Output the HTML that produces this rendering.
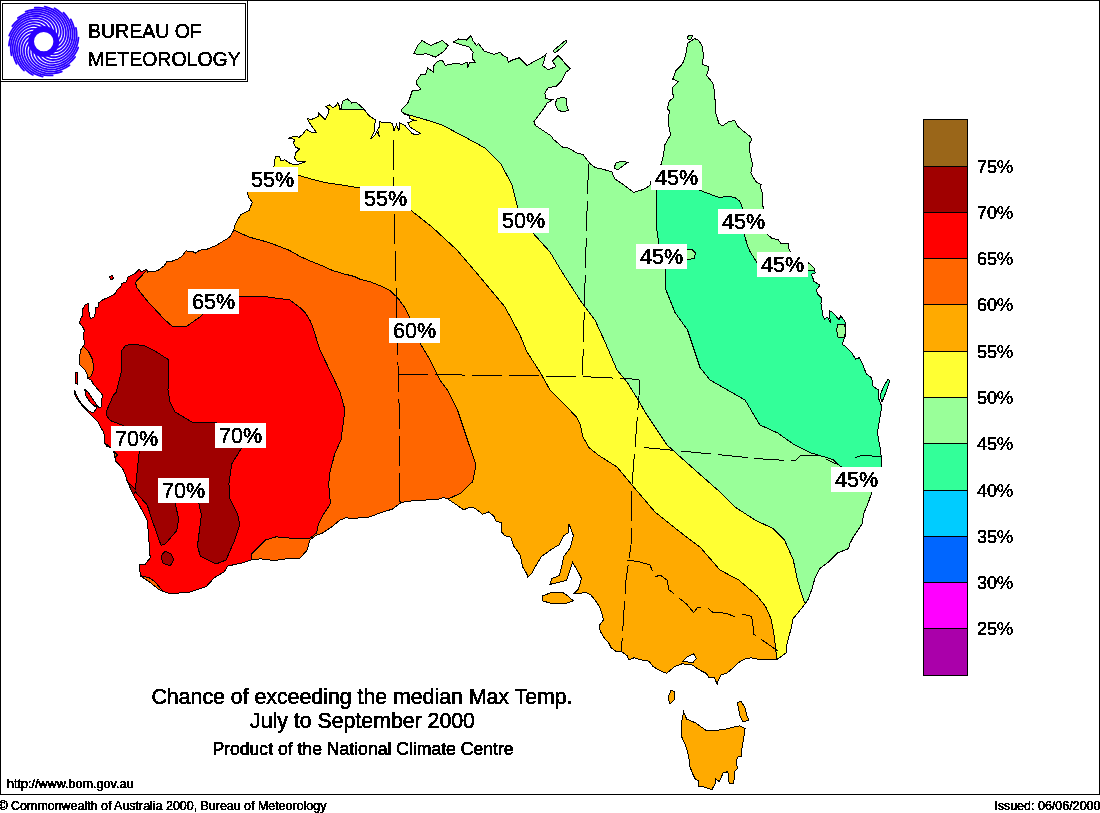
<!DOCTYPE html>
<html><head><meta charset="utf-8"><style>
html,body{margin:0;padding:0;background:#fff;}
body{width:1100px;height:813px;overflow:hidden;position:relative;}
svg{position:absolute;left:0;top:0;will-change:transform;}
text{font-family:"Liberation Sans",sans-serif;fill:#000;}
.lg{font-size:18px;stroke:#000;stroke-width:0.2px;}
.ml{font-size:21.5px;stroke:#000;stroke-width:0.2px;}
.logo{font-size:19.5px;stroke:#000;stroke-width:0.15px;}
.t1{font-size:21.3px;stroke:#000;stroke-width:0.3px;}
.t3{font-size:17.6px;stroke:#000;stroke-width:0.3px;}
.sm{font-size:12.6px;stroke:#000;stroke-width:0.25px;}
.iss{font-size:12.5px;stroke:#000;stroke-width:0.25px;}
</style></head><body>
<svg width="1100" height="813" viewBox="0 0 1100 813">
<defs><filter id="crisp" x="-5%" y="-20%" width="110%" height="140%"><feComponentTransfer><feFuncA type="discrete" tableValues="0 1 1"/></feComponentTransfer></filter><clipPath id="land"><path d="M247.3,191 L262,178 L273.9,166.8 L275.4,156.9 L279.8,156.9 L280.8,160.9 L284.8,159.9 L290.7,163.8 L296.6,164.8 L306.4,161.4 L297.6,161.8 L294.6,157.9 L295.6,153 L299.5,149 L295.6,147.1 L293.6,143.1 L294.6,139.2 L288.7,138.2 L293.6,136.3 L299.5,137.2 L303.5,133.3 L306.4,129.4 L311.3,132.3 L316.3,132.3 L313.3,128.4 L309.4,122.5 L307.4,118.5 L311.3,119.5 L318.2,116.6 L318.2,112.6 L321.2,115.6 L325.1,119.5 L328.1,113.6 L329.1,109.7 L326.1,106.7 L329.1,104.8 L333,107.7 L335.9,105.7 L337.9,102.8 L340.9,109.7 L341.6,104.7 L343.3,100.6 L347.4,99 L350.6,101.5 L351.5,103.1 L356.4,102.3 L363.7,108.8 L368.6,115.4 L376,120.3 L374.4,124.4 L374.4,130.9 L370.3,139.1 L374.4,135.8 L376.8,131.7 L379.3,136.6 L377.6,129.3 L380.1,126 L379.3,121.9 L390.7,122.7 L392.4,123.6 L394,130.9 L396.5,124.4 L398.9,130.9 L399.7,122.7 L404.6,125.2 L412,133.4 L416.1,135 L420.2,133.4 L409.6,126.8 L407.9,122.7 L412,121.1 L415.3,120.3 L409.6,118.6 L409.6,116.2 L403.8,113.7 L401.4,111.3 L402.2,108.8 L403.3,107.5 L407.8,103.1 L410,97.6 L412.2,90.9 L421,89.8 L419.9,87.6 L416.6,84.3 L416.6,80.9 L421,74.3 L425.5,74.3 L427.7,67.7 L433.2,72.1 L433.2,66.5 L436.5,62.1 L442.1,59.9 L445.4,65.4 L455.4,63.2 L462,64.3 L467.6,62.1 L467.6,67.7 L469.8,62.1 L475.3,62.1 L472.5,58.8 L473.1,52.1 L468.7,46.6 L459.8,44.4 L453.2,42.2 L458.7,38.9 L466.4,40 L470.9,35.5 L473.1,41.1 L476.4,45.5 L478.6,43.8 L484.2,51 L494.1,54.4 L500.5,52.2 L502.8,55.5 L507.2,57.7 L508.3,62.1 L512.7,59.9 L519.4,57.7 L522.7,61 L527.1,65.5 L534.9,61 L541.5,57.7 L545.9,54.4 L542.6,65.5 L548.2,69.9 L555.9,66.6 L552.6,61 L558.1,55.5 L561.4,58.8 L564.8,63.3 L570.3,68.8 L565.9,72.1 L563.7,76.5 L561.4,81 L555.9,86.5 L548.2,87.6 L544.8,93.2 L545.9,98.7 L552.6,99.8 L547,103.1 L543.7,108.7 L537.1,117.5 L533.8,121.9 L535.5,125.5 L543.6,130.9 L551.8,136.4 L553.2,139.1 L562.7,147.3 L568.2,148 L576.4,152.7 L583.2,154.8 L590,163.6 L595.5,167.7 L602.3,169.1 L611.8,171.8 L614.5,178.6 L622.7,184.1 L633.6,192.3 L643.2,189.5 L650,185.5 L650.7,181.4 L656,172 L660.9,165 L663,156.8 L665,144.5 L670.5,135 L669,126.8 L668.5,116.1 L669.8,111.2 L667.3,108.7 L669.1,101.3 L673.4,97.6 L672.2,87.8 L678.4,81.6 L672.8,79.2 L675.9,70.6 L680.8,65.7 L683.3,62 L685.7,54.6 L687.6,43.5 L694.3,38.6 L698,39.8 L701.7,44.8 L703.6,54.6 L702.3,64.4 L709.1,66.9 L706.6,75.5 L712.8,82.9 L714,89 L715.2,101.3 L715.2,111.2 L718.9,123.4 L722.6,125.9 L728.8,121.6 L734.9,120.4 L737.4,125.9 L743.4,131.1 L750.8,137.2 L752,139.7 L749.5,143.4 L750.1,154.5 L752.6,164.3 L750.8,172.9 L755.7,181.5 L761.2,184.6 L760,186.4 L762.5,193.8 L763.1,208.6 L764,222 L765,233 L767.2,234.2 L772.1,238.5 L778.3,239.7 L780.8,243.4 L788.1,243.4 L789.4,250.8 L798,257 L808.1,262.5 L814,268 L815.2,272.9 L811.5,274.1 L814,281.5 L820.1,285.2 L816.2,290 L817.6,294.1 L821.7,298.1 L821,303.5 L823,315.7 L824.4,319.1 L827.7,317.1 L830.4,323.2 L829.1,310.3 L832.5,312.3 L839.2,319.8 L840.6,315.7 L844.7,321.1 L846,326.5 L844.7,336 L843.3,341.4 L842,344.1 L846,346.8 L851.4,352.2 L855.5,359 L859.5,357.7 L862.2,363.1 L866.3,373.9 L871.7,378 L873.1,386.1 L878.5,390.1 L878.5,398.3 L881.8,406.3 L879.6,419.6 L877.4,433 L880.7,450.6 L881.8,466 L878,480 L871.9,492 L868.5,502 L864,513 L862,524 L853,537.5 L849.7,544 L848.6,548.6 L837.5,553 L828.7,562 L819.8,568.5 L815,578 L811.8,589.5 L807.7,600.3 L803.6,605.7 L798.2,612.5 L792.8,619.2 L791.5,627.3 L788.8,636.8 L786.7,644.9 L786,653 L782,655.8 L776.6,659.8 L757.6,659.1 L750.9,657.8 L744.1,659.1 L738.7,662.5 L733.3,667.9 L726.5,673.3 L721.1,674.7 L718.4,680.1 L717.1,684.2 L714.4,677.4 L708.9,677.4 L706.2,673.3 L700.8,670.6 L696.3,667.9 L692.3,665 L686,664.5 L682.8,663.5 L674.7,666.6 L666.6,673.3 L659.8,670.6 L653.1,666.6 L649,661.2 L640.9,659.8 L634.1,657.8 L628.7,659.8 L627.3,655.8 L621.9,651.7 L616.5,651.7 L611.1,647.6 L608.4,642.2 L604.4,638.2 L600.3,631.4 L598.9,626 L603,620.6 L603,617.9 L600.3,608.4 L596.2,601.6 L590.8,594.9 L585.4,592.2 L580,593.5 L574.1,593.3 L578.5,588.9 L581.5,578.5 L578.5,572.6 L572.6,562.3 L566.7,580 L562.3,581.5 L549.8,584.4 L552,578.5 L559.4,575.6 L561.6,566.7 L563.8,556.4 L570.4,547.5 L573.4,535.7 L571.9,531.3 L569,524 L568.2,532.8 L563.8,535.7 L559.4,544.6 L552,549 L541.6,556.4 L534.3,568.2 L532,573.4 L527.6,577 L526.9,574 L522.5,566.7 L520.2,555 L513.6,546 L510.7,537.2 L504.8,535.7 L501,531.3 L501,522.5 L495.9,521 L495.6,520.7 L494.2,516.4 L488.4,512 L482.5,514.2 L475.3,508.4 L470.9,506.9 L463.6,509.8 L456.4,504.7 L447.6,498.9 L443.3,497.5 L437.5,499.6 L415.6,500.4 L401.1,502.5 L392.4,509.1 L380.7,512.7 L369.1,517.1 L351.6,518.5 L345.8,517.8 L340,520 L333,526 L322.6,533 L315.8,535.6 L309.7,540 L307.1,550.2 L299.4,558.8 L291.7,558 L274.4,560.5 L260.7,558.8 L252,559.7 L241.7,563 L227.9,566 L224,571.9 L214.2,577.8 L206.3,586.6 L188.6,592.5 L168.9,593.5 L159,589.6 L149.2,581.7 L140.3,575.8 L139.4,564 L145.3,564 L150.2,558 L149.2,544.3 L148.2,530.5 L147.2,520.7 L141.3,508.9 L133.5,495 L127.6,482.3 L125.3,475 L123.3,469.8 L118.4,463.9 L115.4,460.9 L114.4,454.1 L111.5,448.1 L106.6,446.2 L104.6,443.2 L104.6,436.3 L103.6,432.4 L97.7,421.6 L94,418 L90,414 L85,409 L80,403 L76,397 L74,392 L74.8,390.4 L76.8,396 L80,401.6 L84,406.4 L88,410.4 L92,412.8 L93.6,412.8 L96,408.8 L96.8,404.8 L97.6,406.4 L100,408 L101.6,406.4 L101.6,401.6 L102.4,395.2 L100.8,392.8 L96,387.2 L92.8,383.2 L91.2,380 L88,378.4 L87.2,374.4 L84.8,369.6 L80,364.8 L79.6,360 L80.2,350.8 L84.2,344.4 L84,340 L83.7,333.1 L84.4,330.2 L83.3,328 L79.6,322.8 L80.3,319.1 L82.2,316.2 L82.2,310.3 L83.3,308 L85.5,304.4 L88.5,303.6 L89.2,315.4 L90.7,318.4 L94.4,316.9 L95.8,310.3 L95.1,308 L98,307.3 L98.8,302.9 L102.5,299.9 L109.1,297 L115.8,293.3 L116.5,290.3 L120.9,286.6 L121.7,283.7 L126.8,281.5 L127.3,277.5 L134.1,274.1 L139.5,269.3 L140.9,272 L146.4,269.3 L147.7,272 L154.5,271.4 L158.6,270 L164.1,265.9 L166.8,261.8 L172.3,261.1 L177.7,259.1 L181.8,256.4 L185.9,250.9 L192.7,251.6 L195.5,253 L199.5,250.2 L206.4,249.5 L215.9,245.5 L222.7,241.4 L229.5,237.3 L233.6,230.5 L235,225 L237.4,220.1 L241.3,214.2 L249.2,210.3 L252.2,202.4 L248.2,196.5ZM683.6,711.7 L682,720 L681,724 L681.4,736 L686.6,748 L688.8,756.8 L690,767 L692.7,773.8 L695.4,779.2 L698.1,780.6 L698.8,786.7 L703.5,786.7 L709,788.7 L711.7,790 L715,784 L715.7,779.2 L719.1,781.3 L721.1,777.9 L723.2,772.5 L727.9,771.8 L728.6,777.9 L729.2,783.3 L733.3,783.3 L734.7,776.5 L734,771.8 L737.4,768.4 L736,760.3 L738.7,756.2 L741.4,756.2 L742.1,746.8 L743.5,740 L744,736 L745,728.7 L739.7,725.8 L733.8,727 L728,728.7 L719,730 L707,731 L695.4,722.8 L686.6,719ZM413.8,53.8 L417.7,45.5 L422.1,40.5 L426.6,43.3 L431,45.5 L442.1,40.5 L448.2,45.5 L444.3,51 L435.4,57.1 L426.6,53.8 L419.9,54.4ZM553,51 L560,45 L566,40 L567,42 L561,48 L555,53ZM555,104 L557,99 L563,97 L567,99 L566,104 L568.6,110 L563,112 L558,110ZM614,168 L616,163 L622,161 L628,162.5 L624,165 L618,169.8ZM687,37 L690,35 L692.5,36 L691,39 L688,39ZM542.4,596 L550,593 L562,592 L568,596 L573.4,601 L565,603.6 L550,603 L543,601ZM668,698 L671,690 L674.8,692 L674,700 L670,704ZM737.5,703 L741,701 L745,708 L747,716 L749,720 L743,722 L740,716ZM880,395 L884,386 L888,379 L889.6,381 L886,392 L882,402ZM84.8,389.6 L88,392 L92,398 L96.8,404.8 L95,406.4 L90,402 L86,396ZM76,372 L78,373 L77.5,384 L75.6,383ZM109.5,277 L112,275.5 L113.6,278 L111,280.2ZM836.5,330 L838,324 L844,324 L846,330 L845,337 L838,337Z"/></clipPath></defs>
<rect x="0.5" y="0.5" width="1099" height="794" fill="#fff" stroke="#000" stroke-width="1" shape-rendering="crispEdges"/>
<g clip-path="url(#land)" shape-rendering="crispEdges">
<rect x="0" y="0" width="1100" height="813" fill="#ffaa00"/>
<path d="M238,168 L297,174.8 L310.3,178.8 L326,182.7 L340,184.7 L360,188 L385,197 L410.5,210 L432,227 L457,250 L480,277 L505,307 L520,335 L527,352 L540,372 L550,390 L565,405 L576.5,417 L580.5,425 L582.5,436 L589,447.6 L598.9,455.5 L617,467 L632,485 L655,512 L680,532 L700,547 L720,570 L738.7,580 L757.6,596.2 L765.8,607 L771.2,619.2 L773.9,634.1 L775.9,650.3 L776.6,659.8 L778,670 L900,680 L900,20 L238,20Z" fill="#ffff33"/>
<path d="M396,108 L404.6,113.7 L413.6,116.2 L421.8,118.6 L430,121.1 L442,125 L463,136 L485,148 L501,164 L512,185 L517,205 L522,220 L532,232 L550,252 L562,272 L580,300 L595,320 L605,342 L617,370 L627,382 L640,403 L645,412 L667,445 L695,470 L720,492 L735,507 L755,520 L773.3,528.7 L784.4,539.8 L793.2,559.7 L797.5,580 L801,592.2 L804.3,601.6 L810,615 L900,620 L900,20 L396,20Z" fill="#99ff99"/>
<path d="M659,160 L659,189 L699,190 L715,196 L720,197.5 L727.4,196.3 L734.8,197.5 L739.7,201.2 L742.8,208.6 L744,233 L747.5,246 L750,251.4 L756.8,262.5 L785,268 L830,272 L900,290 L900,485 L880,484 L860,476 L839.8,466 L833,459.5 L811,452.9 L793.2,444 L777.7,433 L760,425 L745,400 L727.5,390 L710,380 L700,367.5 L692.5,345 L687.5,330 L675,312.5 L666,290 L665,268 L660,255 L659,244 L656,225 L656,200 L656,189Z" fill="#33ff99" stroke="#000" stroke-width="1"/>
<path d="M225,226 L235,230.5 L243.2,234.5 L250,237.3 L268.9,242.5 L288.6,250 L300,256.4 L310.9,261.3 L321.8,265.6 L332.7,270.5 L343.6,273.8 L354.5,276.5 L360,279.3 L370.9,282 L381.8,286.4 L389.5,290.2 L396,296.2 L399.3,300 L404.7,307.6 L409.1,316.4 L414,330 L420,343 L430,360 L440,380 L447.5,390 L457.5,410 L467.5,440 L476,465 L472.5,482.5 L470.9,482.9 L460.7,493.1 L448.4,498.9 L452,510 L470,570 L60,610 L60,200 L225,200Z" fill="#ff6600"/>
<path d="M140,262 L147,266 L147,270 L135.5,282.3 L136.8,287.7 L146.4,300 L165,320 L172,326 L187,326 L200,317 L212,305 L239,296 L260,296 L290,300 L300,307.6 L305.5,313 L309.8,320 L312,325 L320,350 L332,375 L340,392 L345,410 L341,440 L334.7,453.8 L329.5,474.4 L328.7,484.8 L330.4,503.7 L322.6,515.8 L318.3,524.4 L316.6,533 L308.9,539 L290,538.1 L276.2,536.8 L265.8,539.9 L252,553.6 L251.2,558.8 L248,575 L240,630 L60,630 L60,240Z" fill="#ff0000"/>
<path d="M122,350 L125.8,345.2 L135.4,344.4 L145,346 L155,351 L169,360 L168,390 L170,402 L175,412 L192,422 L215,422 L236,432 L241.7,447.9 L231.9,463.6 L228.9,483.3 L229.9,499 L237.8,514.8 L239.7,524.6 L233.8,542.3 L226,560 L216.1,564 L200.4,556 L197.4,546.3 L201.4,514.8 L198.4,501.6 L187,492 L174.8,502 L178.7,518.7 L176.8,530.5 L165,544.3 L161,545.3 L153,522.7 L147.2,505 L135.4,492 L131,498 L124,486 L127.6,482.3 L135.4,489 L139.4,449.8 L125,438 L123.3,425.5 L110.5,420.6 L106.6,415.7 L106.6,410.7 L113.5,395 L116.2,392.4 L121.8,370Z" fill="#a00000" stroke="#000" stroke-width="1"/>
<path d="M161,556 L165,551.2 L171,554 L173.8,560 L170,566 L163,563Z" fill="#a00000" stroke="#000" stroke-width="1"/>
<path d="M82.6,345.2 L89,352.4 L92.8,360 L93.6,369.6 L91.2,376 L88,378.4 L80,370 L75,360 L80.2,350.8Z" fill="#ff6600" stroke="#000" stroke-width="1"/><path d="M100,440 L108.5,445.7 L112.5,450 L117.4,455 L113,460 L100,460Z" fill="#ff6600" stroke="#000" stroke-width="1"/><path d="M130,570 L141.3,575.8 L149.2,577.8 L155,581.7 L163,591.5 L150,600 L130,600Z" fill="#ff6600" stroke="#000" stroke-width="1"/>
<path d="M836.5,330 L838,324 L844,324 L846,330 L845,337 L838,337Z" fill="#99ff99" stroke="#000" stroke-width="1"/><path d="M686,250 L692,249.5 L695.5,253 L694,258.5 L686,260Z" fill="#99ff99" stroke="#000" stroke-width="1"/><path d="M336,95 L341.6,104.7 L343.3,100.6 L347.4,99 L350.6,101.5 L356.4,102.3 L363.7,108.8 L363.7,109.6 L340,109.6Z" fill="#99ff99" stroke="#000" stroke-width="1"/>
<path d="M682.8,661.2 L686.9,657.1 L693.6,653.7 L696.3,658.5 L693,662.5 L688,662Z" fill="#fff" stroke="#000" stroke-width="1"/>
<g fill="none" stroke="#000" stroke-width="1">
<path d="M238,168 L297,174.8 L310.3,178.8 L326,182.7 L340,184.7 L360,188 L385,197 L410.5,210 L432,227 L457,250 L480,277 L505,307 L520,335 L527,352 L540,372 L550,390 L565,405 L576.5,417 L580.5,425 L582.5,436 L589,447.6 L598.9,455.5 L617,467 L632,485 L655,512 L680,532 L700,547 L720,570 L738.7,580 L757.6,596.2 L765.8,607 L771.2,619.2 L773.9,634.1 L775.9,650.3 L776.6,659.8 L778,670"/><path d="M396,108 L404.6,113.7 L413.6,116.2 L421.8,118.6 L430,121.1 L442,125 L463,136 L485,148 L501,164 L512,185 L517,205 L522,220 L532,232 L550,252 L562,272 L580,300 L595,320 L605,342 L617,370 L627,382 L640,403 L645,412 L667,445 L695,470 L720,492 L735,507 L755,520 L773.3,528.7 L784.4,539.8 L793.2,559.7 L797.5,580 L801,592.2 L804.3,601.6 L810,615"/><path d="M225,226 L235,230.5 L243.2,234.5 L250,237.3 L268.9,242.5 L288.6,250 L300,256.4 L310.9,261.3 L321.8,265.6 L332.7,270.5 L343.6,273.8 L354.5,276.5 L360,279.3 L370.9,282 L381.8,286.4 L389.5,290.2 L396,296.2 L399.3,300 L404.7,307.6 L409.1,316.4 L414,330 L420,343 L430,360 L440,380 L447.5,390 L457.5,410 L467.5,440 L476,465 L472.5,482.5 L470.9,482.9 L460.7,493.1 L448.4,498.9 L452,510"/><path d="M140,262 L147,266 L147,270 L135.5,282.3 L136.8,287.7 L146.4,300 L165,320 L172,326 L187,326 L200,317 L212,305 L239,296 L260,296 L290,300 L300,307.6 L305.5,313 L309.8,320 L312,325 L320,350 L332,375 L340,392 L345,410 L341,440 L334.7,453.8 L329.5,474.4 L328.7,484.8 L330.4,503.7 L322.6,515.8 L318.3,524.4 L316.6,533 L308.9,539 L290,538.1 L276.2,536.8 L265.8,539.9 L252,553.6 L251.2,558.8 L248,575"/>
</g>
<g fill="none" stroke="#000" stroke-width="1" stroke-dasharray="30 7">
<path d="M393.6,140 L394,210 L399,403 L399,501 L401.1,502.5"/><path d="M398.3,374.2 L580,376.5 L631.1,378.9 L639.4,380"/><path d="M588.6,163.6 L587.3,200 L582.5,375"/><path d="M639.4,380 L639,396 L632,485 L631,545 L626,580 L621.3,651.7"/><path d="M644,447.5 L763,459 L795,461 L800,456 L817,455 L826,459 L836,464"/><path d="M855,458 L862,455 L882,457"/><path d="M627,560 L640,562 L650,565 L655,577 L660,575 L667,580 L669,590 L672,592.2 L686.9,604.4 L693.6,612.5 L698,607 L707.6,607.7 L713,612.5 L725.2,613.1 L734.6,616.5 L744.1,614.5 L751.5,616.5 L752.9,624.6 L753.6,634.1 L777.9,651"/>
</g>
</g>
<path d="M247.3,191 L262,178 L273.9,166.8 L275.4,156.9 L279.8,156.9 L280.8,160.9 L284.8,159.9 L290.7,163.8 L296.6,164.8 L306.4,161.4 L297.6,161.8 L294.6,157.9 L295.6,153 L299.5,149 L295.6,147.1 L293.6,143.1 L294.6,139.2 L288.7,138.2 L293.6,136.3 L299.5,137.2 L303.5,133.3 L306.4,129.4 L311.3,132.3 L316.3,132.3 L313.3,128.4 L309.4,122.5 L307.4,118.5 L311.3,119.5 L318.2,116.6 L318.2,112.6 L321.2,115.6 L325.1,119.5 L328.1,113.6 L329.1,109.7 L326.1,106.7 L329.1,104.8 L333,107.7 L335.9,105.7 L337.9,102.8 L340.9,109.7 L341.6,104.7 L343.3,100.6 L347.4,99 L350.6,101.5 L351.5,103.1 L356.4,102.3 L363.7,108.8 L368.6,115.4 L376,120.3 L374.4,124.4 L374.4,130.9 L370.3,139.1 L374.4,135.8 L376.8,131.7 L379.3,136.6 L377.6,129.3 L380.1,126 L379.3,121.9 L390.7,122.7 L392.4,123.6 L394,130.9 L396.5,124.4 L398.9,130.9 L399.7,122.7 L404.6,125.2 L412,133.4 L416.1,135 L420.2,133.4 L409.6,126.8 L407.9,122.7 L412,121.1 L415.3,120.3 L409.6,118.6 L409.6,116.2 L403.8,113.7 L401.4,111.3 L402.2,108.8 L403.3,107.5 L407.8,103.1 L410,97.6 L412.2,90.9 L421,89.8 L419.9,87.6 L416.6,84.3 L416.6,80.9 L421,74.3 L425.5,74.3 L427.7,67.7 L433.2,72.1 L433.2,66.5 L436.5,62.1 L442.1,59.9 L445.4,65.4 L455.4,63.2 L462,64.3 L467.6,62.1 L467.6,67.7 L469.8,62.1 L475.3,62.1 L472.5,58.8 L473.1,52.1 L468.7,46.6 L459.8,44.4 L453.2,42.2 L458.7,38.9 L466.4,40 L470.9,35.5 L473.1,41.1 L476.4,45.5 L478.6,43.8 L484.2,51 L494.1,54.4 L500.5,52.2 L502.8,55.5 L507.2,57.7 L508.3,62.1 L512.7,59.9 L519.4,57.7 L522.7,61 L527.1,65.5 L534.9,61 L541.5,57.7 L545.9,54.4 L542.6,65.5 L548.2,69.9 L555.9,66.6 L552.6,61 L558.1,55.5 L561.4,58.8 L564.8,63.3 L570.3,68.8 L565.9,72.1 L563.7,76.5 L561.4,81 L555.9,86.5 L548.2,87.6 L544.8,93.2 L545.9,98.7 L552.6,99.8 L547,103.1 L543.7,108.7 L537.1,117.5 L533.8,121.9 L535.5,125.5 L543.6,130.9 L551.8,136.4 L553.2,139.1 L562.7,147.3 L568.2,148 L576.4,152.7 L583.2,154.8 L590,163.6 L595.5,167.7 L602.3,169.1 L611.8,171.8 L614.5,178.6 L622.7,184.1 L633.6,192.3 L643.2,189.5 L650,185.5 L650.7,181.4 L656,172 L660.9,165 L663,156.8 L665,144.5 L670.5,135 L669,126.8 L668.5,116.1 L669.8,111.2 L667.3,108.7 L669.1,101.3 L673.4,97.6 L672.2,87.8 L678.4,81.6 L672.8,79.2 L675.9,70.6 L680.8,65.7 L683.3,62 L685.7,54.6 L687.6,43.5 L694.3,38.6 L698,39.8 L701.7,44.8 L703.6,54.6 L702.3,64.4 L709.1,66.9 L706.6,75.5 L712.8,82.9 L714,89 L715.2,101.3 L715.2,111.2 L718.9,123.4 L722.6,125.9 L728.8,121.6 L734.9,120.4 L737.4,125.9 L743.4,131.1 L750.8,137.2 L752,139.7 L749.5,143.4 L750.1,154.5 L752.6,164.3 L750.8,172.9 L755.7,181.5 L761.2,184.6 L760,186.4 L762.5,193.8 L763.1,208.6 L764,222 L765,233 L767.2,234.2 L772.1,238.5 L778.3,239.7 L780.8,243.4 L788.1,243.4 L789.4,250.8 L798,257 L808.1,262.5 L814,268 L815.2,272.9 L811.5,274.1 L814,281.5 L820.1,285.2 L816.2,290 L817.6,294.1 L821.7,298.1 L821,303.5 L823,315.7 L824.4,319.1 L827.7,317.1 L830.4,323.2 L829.1,310.3 L832.5,312.3 L839.2,319.8 L840.6,315.7 L844.7,321.1 L846,326.5 L844.7,336 L843.3,341.4 L842,344.1 L846,346.8 L851.4,352.2 L855.5,359 L859.5,357.7 L862.2,363.1 L866.3,373.9 L871.7,378 L873.1,386.1 L878.5,390.1 L878.5,398.3 L881.8,406.3 L879.6,419.6 L877.4,433 L880.7,450.6 L881.8,466 L878,480 L871.9,492 L868.5,502 L864,513 L862,524 L853,537.5 L849.7,544 L848.6,548.6 L837.5,553 L828.7,562 L819.8,568.5 L815,578 L811.8,589.5 L807.7,600.3 L803.6,605.7 L798.2,612.5 L792.8,619.2 L791.5,627.3 L788.8,636.8 L786.7,644.9 L786,653 L782,655.8 L776.6,659.8 L757.6,659.1 L750.9,657.8 L744.1,659.1 L738.7,662.5 L733.3,667.9 L726.5,673.3 L721.1,674.7 L718.4,680.1 L717.1,684.2 L714.4,677.4 L708.9,677.4 L706.2,673.3 L700.8,670.6 L696.3,667.9 L692.3,665 L686,664.5 L682.8,663.5 L674.7,666.6 L666.6,673.3 L659.8,670.6 L653.1,666.6 L649,661.2 L640.9,659.8 L634.1,657.8 L628.7,659.8 L627.3,655.8 L621.9,651.7 L616.5,651.7 L611.1,647.6 L608.4,642.2 L604.4,638.2 L600.3,631.4 L598.9,626 L603,620.6 L603,617.9 L600.3,608.4 L596.2,601.6 L590.8,594.9 L585.4,592.2 L580,593.5 L574.1,593.3 L578.5,588.9 L581.5,578.5 L578.5,572.6 L572.6,562.3 L566.7,580 L562.3,581.5 L549.8,584.4 L552,578.5 L559.4,575.6 L561.6,566.7 L563.8,556.4 L570.4,547.5 L573.4,535.7 L571.9,531.3 L569,524 L568.2,532.8 L563.8,535.7 L559.4,544.6 L552,549 L541.6,556.4 L534.3,568.2 L532,573.4 L527.6,577 L526.9,574 L522.5,566.7 L520.2,555 L513.6,546 L510.7,537.2 L504.8,535.7 L501,531.3 L501,522.5 L495.9,521 L495.6,520.7 L494.2,516.4 L488.4,512 L482.5,514.2 L475.3,508.4 L470.9,506.9 L463.6,509.8 L456.4,504.7 L447.6,498.9 L443.3,497.5 L437.5,499.6 L415.6,500.4 L401.1,502.5 L392.4,509.1 L380.7,512.7 L369.1,517.1 L351.6,518.5 L345.8,517.8 L340,520 L333,526 L322.6,533 L315.8,535.6 L309.7,540 L307.1,550.2 L299.4,558.8 L291.7,558 L274.4,560.5 L260.7,558.8 L252,559.7 L241.7,563 L227.9,566 L224,571.9 L214.2,577.8 L206.3,586.6 L188.6,592.5 L168.9,593.5 L159,589.6 L149.2,581.7 L140.3,575.8 L139.4,564 L145.3,564 L150.2,558 L149.2,544.3 L148.2,530.5 L147.2,520.7 L141.3,508.9 L133.5,495 L127.6,482.3 L125.3,475 L123.3,469.8 L118.4,463.9 L115.4,460.9 L114.4,454.1 L111.5,448.1 L106.6,446.2 L104.6,443.2 L104.6,436.3 L103.6,432.4 L97.7,421.6 L94,418 L90,414 L85,409 L80,403 L76,397 L74,392 L74.8,390.4 L76.8,396 L80,401.6 L84,406.4 L88,410.4 L92,412.8 L93.6,412.8 L96,408.8 L96.8,404.8 L97.6,406.4 L100,408 L101.6,406.4 L101.6,401.6 L102.4,395.2 L100.8,392.8 L96,387.2 L92.8,383.2 L91.2,380 L88,378.4 L87.2,374.4 L84.8,369.6 L80,364.8 L79.6,360 L80.2,350.8 L84.2,344.4 L84,340 L83.7,333.1 L84.4,330.2 L83.3,328 L79.6,322.8 L80.3,319.1 L82.2,316.2 L82.2,310.3 L83.3,308 L85.5,304.4 L88.5,303.6 L89.2,315.4 L90.7,318.4 L94.4,316.9 L95.8,310.3 L95.1,308 L98,307.3 L98.8,302.9 L102.5,299.9 L109.1,297 L115.8,293.3 L116.5,290.3 L120.9,286.6 L121.7,283.7 L126.8,281.5 L127.3,277.5 L134.1,274.1 L139.5,269.3 L140.9,272 L146.4,269.3 L147.7,272 L154.5,271.4 L158.6,270 L164.1,265.9 L166.8,261.8 L172.3,261.1 L177.7,259.1 L181.8,256.4 L185.9,250.9 L192.7,251.6 L195.5,253 L199.5,250.2 L206.4,249.5 L215.9,245.5 L222.7,241.4 L229.5,237.3 L233.6,230.5 L235,225 L237.4,220.1 L241.3,214.2 L249.2,210.3 L252.2,202.4 L248.2,196.5ZM683.6,711.7 L682,720 L681,724 L681.4,736 L686.6,748 L688.8,756.8 L690,767 L692.7,773.8 L695.4,779.2 L698.1,780.6 L698.8,786.7 L703.5,786.7 L709,788.7 L711.7,790 L715,784 L715.7,779.2 L719.1,781.3 L721.1,777.9 L723.2,772.5 L727.9,771.8 L728.6,777.9 L729.2,783.3 L733.3,783.3 L734.7,776.5 L734,771.8 L737.4,768.4 L736,760.3 L738.7,756.2 L741.4,756.2 L742.1,746.8 L743.5,740 L744,736 L745,728.7 L739.7,725.8 L733.8,727 L728,728.7 L719,730 L707,731 L695.4,722.8 L686.6,719ZM413.8,53.8 L417.7,45.5 L422.1,40.5 L426.6,43.3 L431,45.5 L442.1,40.5 L448.2,45.5 L444.3,51 L435.4,57.1 L426.6,53.8 L419.9,54.4ZM553,51 L560,45 L566,40 L567,42 L561,48 L555,53ZM555,104 L557,99 L563,97 L567,99 L566,104 L568.6,110 L563,112 L558,110ZM614,168 L616,163 L622,161 L628,162.5 L624,165 L618,169.8ZM687,37 L690,35 L692.5,36 L691,39 L688,39ZM542.4,596 L550,593 L562,592 L568,596 L573.4,601 L565,603.6 L550,603 L543,601ZM668,698 L671,690 L674.8,692 L674,700 L670,704ZM737.5,703 L741,701 L745,708 L747,716 L749,720 L743,722 L740,716ZM880,395 L884,386 L888,379 L889.6,381 L886,392 L882,402ZM84.8,389.6 L88,392 L92,398 L96.8,404.8 L95,406.4 L90,402 L86,396ZM76,372 L78,373 L77.5,384 L75.6,383ZM109.5,277 L112,275.5 L113.6,278 L111,280.2ZM836.5,330 L838,324 L844,324 L846,330 L845,337 L838,337Z" fill="none" stroke="#000" stroke-width="1" shape-rendering="crispEdges"/>
<rect x="247" y="167" width="51" height="25" fill="#fff"/><rect x="360" y="186" width="51" height="25" fill="#fff"/><rect x="498" y="208" width="51" height="25" fill="#fff"/><rect x="651" y="165" width="51" height="25" fill="#fff"/><rect x="718" y="209" width="51" height="25" fill="#fff"/><rect x="636" y="244" width="51" height="25" fill="#fff"/><rect x="757" y="252" width="51" height="25" fill="#fff"/><rect x="389" y="318" width="51" height="25" fill="#fff"/><rect x="188" y="289" width="51" height="25" fill="#fff"/><rect x="111" y="426" width="51" height="25" fill="#fff"/><rect x="215" y="423" width="51" height="25" fill="#fff"/><rect x="158" y="478" width="51" height="25" fill="#fff"/><rect x="831" y="467" width="51" height="25" fill="#fff"/>
<g filter="url(#crisp)"><text x="272.5" y="186.5" class="ml" text-anchor="middle">55%</text><text x="385.5" y="205.5" class="ml" text-anchor="middle">55%</text><text x="523.5" y="227.5" class="ml" text-anchor="middle">50%</text><text x="676.5" y="184.5" class="ml" text-anchor="middle">45%</text><text x="743.5" y="228.5" class="ml" text-anchor="middle">45%</text><text x="661.5" y="263.5" class="ml" text-anchor="middle">45%</text><text x="782.5" y="271.5" class="ml" text-anchor="middle">45%</text><text x="414.5" y="337.5" class="ml" text-anchor="middle">60%</text><text x="213.5" y="308.5" class="ml" text-anchor="middle">65%</text><text x="136.5" y="445.5" class="ml" text-anchor="middle">70%</text><text x="240.5" y="442.5" class="ml" text-anchor="middle">70%</text><text x="183.5" y="497.5" class="ml" text-anchor="middle">70%</text><text x="856.5" y="486.5" class="ml" text-anchor="middle">45%</text></g>
<rect x="923.5" y="119.5" width="44" height="47" fill="#9a6619" stroke="#000" stroke-width="1" shape-rendering="crispEdges"/><rect x="923.5" y="166.5" width="44" height="46" fill="#a00000" stroke="#000" stroke-width="1" shape-rendering="crispEdges"/><rect x="923.5" y="212.5" width="44" height="46" fill="#ff0000" stroke="#000" stroke-width="1" shape-rendering="crispEdges"/><rect x="923.5" y="258.5" width="44" height="46" fill="#ff6600" stroke="#000" stroke-width="1" shape-rendering="crispEdges"/><rect x="923.5" y="304.5" width="44" height="47" fill="#ffaa00" stroke="#000" stroke-width="1" shape-rendering="crispEdges"/><rect x="923.5" y="351.5" width="44" height="46" fill="#ffff33" stroke="#000" stroke-width="1" shape-rendering="crispEdges"/><rect x="923.5" y="397.5" width="44" height="46" fill="#99ff99" stroke="#000" stroke-width="1" shape-rendering="crispEdges"/><rect x="923.5" y="443.5" width="44" height="47" fill="#33ff99" stroke="#000" stroke-width="1" shape-rendering="crispEdges"/><rect x="923.5" y="490.5" width="44" height="46" fill="#00ccff" stroke="#000" stroke-width="1" shape-rendering="crispEdges"/><rect x="923.5" y="536.5" width="44" height="46" fill="#0066ff" stroke="#000" stroke-width="1" shape-rendering="crispEdges"/><rect x="923.5" y="582.5" width="44" height="46" fill="#ff00ff" stroke="#000" stroke-width="1" shape-rendering="crispEdges"/><rect x="923.5" y="628.5" width="44" height="47" fill="#aa00aa" stroke="#000" stroke-width="1" shape-rendering="crispEdges"/>
<g filter="url(#crisp)"><text x="977" y="173" class="lg">75%</text><text x="977" y="219" class="lg">70%</text><text x="977" y="265" class="lg">65%</text><text x="977" y="311" class="lg">60%</text><text x="977" y="358" class="lg">55%</text><text x="977" y="404" class="lg">50%</text><text x="977" y="450" class="lg">45%</text><text x="977" y="497" class="lg">40%</text><text x="977" y="543" class="lg">35%</text><text x="977" y="589" class="lg">30%</text><text x="977" y="635" class="lg">25%</text></g>
<!-- logo box -->
<rect x="0.5" y="0.5" width="247" height="81" fill="#fff" stroke="#000" stroke-width="1"/>
<rect x="2.5" y="3.5" width="243" height="76" fill="none" stroke="#000" stroke-width="1"/>
<g fill="none" stroke="#2a00ff" stroke-width="1.8" stroke-linecap="round">
<path d="M54.70,41.60 L55.50,41.43 L56.29,41.08 L57.06,40.58 L57.80,39.94 L58.50,39.16 L59.14,38.23 L59.70,37.16 L60.16,35.95 L60.50,34.61 L60.71,33.13 L60.75,31.54 L60.62,29.85 L60.28,28.07 L59.71,26.22 L58.91,24.34 L57.84,22.45 L56.50,20.59 L54.87,18.79 L52.96,17.09 L50.76,15.54 L48.27,14.18 L45.52,13.06 L42.52,12.22 L39.29,11.72 L35.88,11.60 L32.33,11.90 L28.69,12.66 L25.03,13.91 L21.40,15.67 L17.89,17.96"/>
<path d="M54.25,44.70 L55.07,44.76 L55.93,44.65 L56.81,44.39 L57.70,43.98 L58.59,43.43 L59.46,42.72 L60.30,41.85 L61.08,40.82 L61.79,39.62 L62.41,38.27 L62.90,36.75 L63.24,35.09 L63.42,33.29 L63.40,31.36 L63.15,29.33 L62.66,27.21 L61.90,25.05 L60.85,22.86 L59.49,20.69 L57.81,18.58 L55.81,16.58 L53.49,14.73 L50.84,13.08 L47.89,11.69 L44.65,10.61 L41.16,9.90 L37.45,9.60 L33.59,9.77 L29.61,10.44 L25.60,11.65"/>
<path d="M52.95,47.55 L53.72,47.83 L54.57,47.97 L55.49,47.97 L56.46,47.83 L57.47,47.55 L58.51,47.11 L59.56,46.52 L60.60,45.75 L61.62,44.80 L62.59,43.67 L63.49,42.36 L64.29,40.86 L64.96,39.18 L65.48,37.32 L65.82,35.30 L65.94,33.14 L65.82,30.84 L65.43,28.45 L64.74,25.99 L63.73,23.49 L62.37,21.00 L60.66,18.57 L58.59,16.25 L56.14,14.08 L53.34,12.14 L50.19,10.47 L46.72,9.14 L42.96,8.21 L38.96,7.73 L34.77,7.76"/>
<path d="M50.90,49.91 L51.56,50.40 L52.34,50.77 L53.22,51.03 L54.19,51.17 L55.24,51.19 L56.35,51.06 L57.53,50.78 L58.75,50.34 L59.99,49.72 L61.24,48.91 L62.47,47.90 L63.66,46.69 L64.78,45.27 L65.81,43.63 L66.70,41.79 L67.43,39.75 L67.96,37.51 L68.26,35.10 L68.29,32.55 L68.02,29.87 L67.42,27.10 L66.46,24.28 L65.13,21.47 L63.39,18.70 L61.25,16.05 L58.70,13.56 L55.74,11.31 L52.40,9.35 L48.70,7.77 L44.67,6.61"/>
<path d="M48.27,51.61 L48.76,52.26 L49.40,52.84 L50.17,53.33 L51.06,53.74 L52.07,54.05 L53.17,54.24 L54.38,54.31 L55.67,54.23 L57.04,53.98 L58.47,53.55 L59.93,52.94 L61.42,52.11 L62.90,51.06 L64.34,49.78 L65.71,48.26 L66.99,46.51 L68.13,44.51 L69.09,42.29 L69.84,39.84 L70.34,37.19 L70.54,34.37 L70.42,31.40 L69.93,28.32 L69.05,25.18 L67.74,22.03 L65.99,18.92 L63.79,15.93 L61.13,13.11 L58.02,10.54 L54.48,8.30"/>
<path d="M45.27,52.49 L45.55,53.25 L46.01,53.99 L46.61,54.68 L47.35,55.32 L48.22,55.90 L49.23,56.40 L50.37,56.80 L51.63,57.09 L53.01,57.24 L54.50,57.23 L56.08,57.05 L57.74,56.67 L59.45,56.08 L61.20,55.26 L62.95,54.19 L64.66,52.87 L66.32,51.28 L67.87,49.41 L69.28,47.28 L70.50,44.88 L71.49,42.22 L72.21,39.34 L72.61,36.25 L72.64,32.98 L72.28,29.59 L71.48,26.12 L70.21,22.63 L68.45,19.18 L66.19,15.84 L63.43,12.69"/>
<path d="M42.13,52.49 L42.19,53.30 L42.42,54.14 L42.80,54.97 L43.33,55.80 L44.01,56.60 L44.83,57.36 L45.81,58.06 L46.95,58.69 L48.23,59.23 L49.66,59.64 L51.23,59.91 L52.93,60.02 L54.74,59.93 L56.64,59.64 L58.62,59.11 L60.64,58.32 L62.68,57.26 L64.69,55.90 L66.64,54.25 L68.49,52.29 L70.19,50.03 L71.69,47.46 L72.95,44.61 L73.90,41.49 L74.51,38.13 L74.71,34.57 L74.48,30.86 L73.77,27.06 L72.54,23.22 L70.77,19.42"/>
<path d="M39.13,51.61 L38.96,52.40 L38.94,53.27 L39.07,54.18 L39.35,55.12 L39.77,56.08 L40.35,57.04 L41.09,57.99 L42.00,58.92 L43.08,59.79 L44.34,60.59 L45.76,61.29 L47.36,61.87 L49.12,62.30 L51.03,62.55 L53.08,62.60 L55.24,62.41 L57.50,61.97 L59.81,61.24 L62.15,60.20 L64.48,58.84 L66.74,57.15 L68.91,55.11 L70.91,52.73 L72.71,50.00 L74.23,46.95 L75.44,43.60 L76.26,39.97 L76.65,36.12 L76.55,32.09 L75.93,27.94"/>
<path d="M36.50,49.91 L36.10,50.63 L35.85,51.46 L35.72,52.36 L35.72,53.34 L35.85,54.38 L36.13,55.47 L36.58,56.59 L37.19,57.74 L37.98,58.88 L38.96,60.00 L40.13,61.08 L41.50,62.08 L43.07,62.99 L44.83,63.77 L46.78,64.39 L48.91,64.82 L51.20,65.03 L53.62,64.98 L56.16,64.65 L58.78,64.00 L61.43,63.01 L64.08,61.67 L66.68,59.94 L69.17,57.83 L71.49,55.34 L73.59,52.46 L75.40,49.21 L76.86,45.62 L77.90,41.73 L78.47,37.58"/>
<path d="M34.45,47.55 L33.87,48.12 L33.39,48.84 L33.01,49.68 L32.73,50.62 L32.57,51.65 L32.53,52.78 L32.64,53.98 L32.91,55.25 L33.34,56.57 L33.97,57.92 L34.79,59.28 L35.82,60.63 L37.07,61.95 L38.54,63.19 L40.24,64.34 L42.16,65.35 L44.29,66.19 L46.64,66.83 L49.16,67.22 L51.85,67.34 L54.68,67.14 L57.60,66.59 L60.58,65.67 L63.56,64.35 L66.50,62.61 L69.32,60.44 L71.97,57.83 L74.38,54.80 L76.48,51.36 L78.19,47.53"/>
<path d="M33.15,44.70 L32.43,45.09 L31.77,45.65 L31.17,46.34 L30.63,47.16 L30.19,48.11 L29.84,49.18 L29.60,50.36 L29.50,51.65 L29.55,53.04 L29.77,54.52 L30.17,56.06 L30.78,57.64 L31.61,59.26 L32.67,60.86 L33.97,62.44 L35.53,63.95 L37.34,65.36 L39.41,66.63 L41.72,67.73 L44.27,68.59 L47.04,69.20 L50.00,69.50 L53.11,69.45 L56.35,69.02 L59.65,68.18 L62.97,66.89 L66.25,65.14 L69.42,62.91 L72.40,60.20 L75.12,57.01"/>
<path d="M32.70,41.60 L31.90,41.77 L31.11,42.12 L30.34,42.62 L29.60,43.26 L28.90,44.04 L28.26,44.97 L27.70,46.04 L27.24,47.25 L26.90,48.59 L26.69,50.07 L26.65,51.66 L26.78,53.35 L27.12,55.13 L27.69,56.98 L28.49,58.86 L29.56,60.75 L30.90,62.61 L32.53,64.41 L34.44,66.11 L36.64,67.66 L39.13,69.02 L41.88,70.14 L44.88,70.98 L48.11,71.48 L51.52,71.60 L55.07,71.30 L58.71,70.54 L62.37,69.29 L66.00,67.53 L69.51,65.24"/>
<path d="M33.15,38.50 L32.33,38.44 L31.47,38.55 L30.59,38.81 L29.70,39.22 L28.81,39.77 L27.94,40.48 L27.10,41.35 L26.32,42.38 L25.61,43.58 L24.99,44.93 L24.50,46.45 L24.16,48.11 L23.98,49.91 L24.00,51.84 L24.25,53.87 L24.74,55.99 L25.50,58.15 L26.55,60.34 L27.91,62.51 L29.59,64.62 L31.59,66.62 L33.91,68.47 L36.56,70.12 L39.51,71.51 L42.75,72.59 L46.24,73.30 L49.95,73.60 L53.81,73.43 L57.79,72.76 L61.80,71.55"/>
<path d="M34.45,35.65 L33.68,35.37 L32.83,35.23 L31.91,35.23 L30.94,35.37 L29.93,35.65 L28.89,36.09 L27.84,36.68 L26.80,37.45 L25.78,38.40 L24.81,39.53 L23.91,40.84 L23.11,42.34 L22.44,44.02 L21.92,45.88 L21.58,47.90 L21.46,50.06 L21.58,52.36 L21.97,54.75 L22.66,57.21 L23.67,59.71 L25.03,62.20 L26.74,64.63 L28.81,66.95 L31.26,69.12 L34.06,71.06 L37.21,72.73 L40.68,74.06 L44.44,74.99 L48.44,75.47 L52.63,75.44"/>
<path d="M36.50,33.29 L35.84,32.80 L35.06,32.43 L34.18,32.17 L33.21,32.03 L32.16,32.01 L31.05,32.14 L29.87,32.42 L28.65,32.86 L27.41,33.48 L26.16,34.29 L24.93,35.30 L23.74,36.51 L22.62,37.93 L21.59,39.57 L20.70,41.41 L19.97,43.45 L19.44,45.69 L19.14,48.10 L19.11,50.65 L19.38,53.33 L19.98,56.10 L20.94,58.92 L22.27,61.73 L24.01,64.50 L26.15,67.15 L28.70,69.64 L31.66,71.89 L35.00,73.85 L38.70,75.43 L42.73,76.59"/>
<path d="M39.13,31.59 L38.64,30.94 L38.00,30.36 L37.23,29.87 L36.34,29.46 L35.33,29.15 L34.23,28.96 L33.02,28.89 L31.73,28.97 L30.36,29.22 L28.93,29.65 L27.47,30.26 L25.98,31.09 L24.50,32.14 L23.06,33.42 L21.69,34.94 L20.41,36.69 L19.27,38.69 L18.31,40.91 L17.56,43.36 L17.06,46.01 L16.86,48.83 L16.98,51.80 L17.47,54.88 L18.35,58.02 L19.66,61.17 L21.41,64.28 L23.61,67.27 L26.27,70.09 L29.38,72.66 L32.92,74.90"/>
<path d="M42.13,30.71 L41.85,29.95 L41.39,29.21 L40.79,28.52 L40.05,27.88 L39.18,27.30 L38.17,26.80 L37.03,26.40 L35.77,26.11 L34.39,25.96 L32.90,25.97 L31.32,26.15 L29.66,26.53 L27.95,27.12 L26.20,27.94 L24.45,29.01 L22.74,30.33 L21.08,31.92 L19.53,33.79 L18.12,35.92 L16.90,38.32 L15.91,40.98 L15.19,43.86 L14.79,46.95 L14.76,50.22 L15.12,53.61 L15.92,57.08 L17.19,60.57 L18.95,64.02 L21.21,67.36 L23.97,70.51"/>
<path d="M45.27,30.71 L45.21,29.90 L44.98,29.06 L44.60,28.23 L44.07,27.40 L43.39,26.60 L42.57,25.84 L41.59,25.14 L40.45,24.51 L39.17,23.97 L37.74,23.56 L36.17,23.29 L34.47,23.18 L32.66,23.27 L30.76,23.56 L28.78,24.09 L26.76,24.88 L24.72,25.94 L22.71,27.30 L20.76,28.95 L18.91,30.91 L17.21,33.17 L15.71,35.74 L14.45,38.59 L13.50,41.71 L12.89,45.07 L12.69,48.63 L12.92,52.34 L13.63,56.14 L14.86,59.98 L16.63,63.78"/>
<path d="M48.27,31.59 L48.44,30.80 L48.46,29.93 L48.33,29.02 L48.05,28.08 L47.63,27.12 L47.05,26.16 L46.31,25.21 L45.40,24.28 L44.32,23.41 L43.06,22.61 L41.64,21.91 L40.04,21.33 L38.28,20.90 L36.37,20.65 L34.32,20.60 L32.16,20.79 L29.90,21.23 L27.59,21.96 L25.25,23.00 L22.92,24.36 L20.66,26.05 L18.49,28.09 L16.49,30.47 L14.69,33.20 L13.17,36.25 L11.96,39.60 L11.14,43.23 L10.75,47.08 L10.85,51.11 L11.47,55.26"/>
<path d="M50.90,33.29 L51.30,32.57 L51.55,31.74 L51.68,30.84 L51.68,29.86 L51.55,28.82 L51.27,27.73 L50.82,26.61 L50.21,25.46 L49.42,24.32 L48.44,23.20 L47.27,22.12 L45.90,21.12 L44.33,20.21 L42.57,19.43 L40.62,18.81 L38.49,18.38 L36.20,18.17 L33.78,18.22 L31.24,18.55 L28.62,19.20 L25.97,20.19 L23.32,21.53 L20.72,23.26 L18.23,25.37 L15.91,27.86 L13.81,30.74 L12.00,33.99 L10.54,37.58 L9.50,41.47 L8.93,45.62"/>
<path d="M52.95,35.65 L53.53,35.08 L54.01,34.36 L54.39,33.52 L54.67,32.58 L54.83,31.55 L54.87,30.42 L54.76,29.22 L54.49,27.95 L54.06,26.63 L53.43,25.28 L52.61,23.92 L51.58,22.57 L50.33,21.25 L48.86,20.01 L47.16,18.86 L45.24,17.85 L43.11,17.01 L40.76,16.37 L38.24,15.98 L35.55,15.86 L32.72,16.06 L29.80,16.61 L26.82,17.53 L23.84,18.85 L20.90,20.59 L18.08,22.76 L15.43,25.37 L13.02,28.40 L10.92,31.84 L9.21,35.67"/>
<path d="M54.25,38.50 L54.97,38.11 L55.63,37.55 L56.23,36.86 L56.77,36.04 L57.21,35.09 L57.56,34.02 L57.80,32.84 L57.90,31.55 L57.85,30.16 L57.63,28.68 L57.23,27.14 L56.62,25.56 L55.79,23.94 L54.73,22.34 L53.43,20.76 L51.87,19.25 L50.06,17.84 L47.99,16.57 L45.68,15.47 L43.13,14.61 L40.36,14.00 L37.40,13.70 L34.29,13.75 L31.05,14.18 L27.75,15.02 L24.43,16.31 L21.15,18.06 L17.98,20.29 L15.00,23.00 L12.28,26.19"/>
<circle cx="43.7" cy="41.6" r="12.6" stroke-width="5.8"/>
</g>
<g filter="url(#crisp)">
<text x="88" y="38" class="logo">BUREAU OF</text>
<text x="88" y="65.5" class="logo">METEOROLOGY</text>
<text x="362" y="703.5" class="t1" text-anchor="middle">Chance of exceeding the median Max Temp.</text>
<text x="362.5" y="727.5" class="t1" text-anchor="middle">July to September 2000</text>
<text x="363" y="754.5" class="t3" text-anchor="middle">Product of the National Climate Centre</text>
<text x="7" y="788" class="sm">http://www.bom.gov.au</text>
<text x="-1.5" y="810" class="sm" style="font-size:12.45px">© Commonwealth of Australia 2000, Bureau of Meteorology</text>
<text x="1100.5" y="810" class="iss" text-anchor="end">Issued: 06/06/2000</text>
</g>
</svg>
</body></html>
